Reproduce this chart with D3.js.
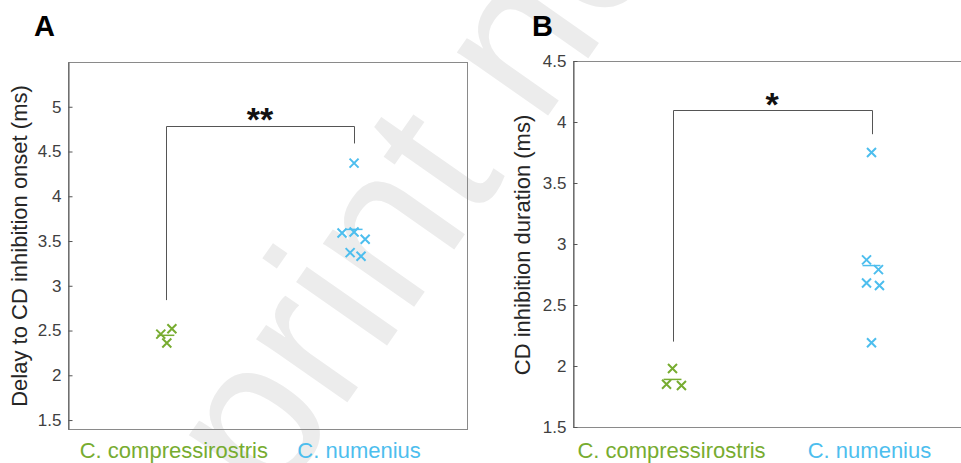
<!DOCTYPE html>
<html>
<head>
<meta charset="utf-8">
<script src="https://cdn.jsdelivr.net/npm/d3@7"></script>
<style>
  body { margin: 0; background: #fff; }
  svg { display: block; font-family: "Liberation Sans", Arial, sans-serif; }
</style>
</head>
<body>
<div id="vis"></div>
<script>
// data

var groups = ["C. compressirostris", "C. numenius"];

// panel A : delay to CD inhibition onset (ms)
var onsetComp = [2.46, 2.52, 2.36],
    onsetCompJit = [-0.027, 0.032, 0.005];
var onsetNum = [4.37, 3.59, 3.60, 3.52, 3.37, 3.33],
    onsetNumJit = [0, -0.064, 0, 0.059, -0.021, 0.037];
var onsetTicks = [1.5, 2, 2.5, 3, 3.5, 4, 4.5, 5];
var onsetBracket = [2.84, 4.78, 4.59]; // left foot, bar, right foot
var onsetStars = "**";

// panel B : CD inhibition duration (ms)
var durComp = [1.98, 1.85, 1.84],
    durCompJit = [0, -0.03, 0.045];
var durNum = [3.75, 2.87, 2.79, 2.68, 2.66, 2.19],
    durNumJit = [0, -0.025, 0.035, -0.025, 0.04, 0];
var durTicks = [1.5, 2, 2.5, 3, 3.5, 4, 4.5];
var durBracket = [2.2, 4.1, 3.9];
var durStars = "*";

var colors = ["#77AC30", "#4DBEEE"];

var W = 961, H = 463;

var svg = d3.select("#vis").append("svg")
    .attr("width", W)
    .attr("height", H);

// watermark behind everything
var wm = svg.append("g")
    .attr("transform", "translate(379,357) rotate(-55)");
var wmText = wm.append("text")
    .attr("font-size", 210)
    .attr("fill", "#ececec")
    .text("preprint not peer reviewed");
var off = wmText.node().getStartPositionOfChar(5).x;
wmText.attr("x", -off);

function panel(opts) {
  var x = d3.scaleLinear().domain(opts.xDomain).range(opts.xRange);
  var y = d3.scaleLinear().domain(opts.yDomain).range(opts.yRange);
  var g = svg.append("g");

  // frame
  var x0 = x(opts.xDomain[0]), x1 = x(opts.xDomain[1]),
      y0 = y(opts.yDomain[0]), y1 = y(opts.yDomain[1]);
  g.append("rect")
      .attr("x", Math.round(x0) + 0.5)
      .attr("y", Math.round(y1) + 0.5)
      .attr("width", Math.round(x1 - x0))
      .attr("height", Math.round(y0 - y1))
      .attr("fill", "none")
      .attr("stroke", "#8a8a8a")
      .attr("stroke-width", 1);

  // y axis, ticks pointing inwards
  var ax = g.append("g")
      .attr("transform", "translate(" + (Math.round(x0) + 0.5) + ",0)")
      .call(d3.axisLeft(y).tickValues(opts.ticks)
        .tickFormat(function(d) { return String(d); })
        .tickSizeInner(-4).tickSizeOuter(0).tickPadding(7));
  ax.select(".domain").attr("stroke", "#555");
  ax.selectAll(".tick line").attr("stroke", "#555");
  ax.selectAll(".tick text")
      .attr("font-size", 17)
      .attr("fill", "#404040")
      .attr("font-family", "'Liberation Sans', Arial, sans-serif");

  // y label
  g.append("text")
      .attr("transform", "translate(" + opts.labelX + "," + opts.labelY + ") rotate(-90)")
      .attr("text-anchor", "middle")
      .attr("font-size", 22)
      .attr("fill", "#262626")
      .text(opts.label);

  // category labels
  g.selectAll(".cat")
    .data(groups)
    .enter().append("text")
      .attr("class", "cat")
      .attr("x", function(d, i) { return x(i + 1) + opts.catShift[i]; })
      .attr("y", 458)
      .attr("text-anchor", "middle")
      .attr("font-size", 22)
      .attr("fill", function(d, i) { return colors[i]; })
      .text(function(d) { return d; });

  // points + mean lines
  opts.series.forEach(function(s, i) {
    var pts = s.values.map(function(v, j) { return {x: i + 1 + s.jit[j], y: v}; });
    var r = 4.5;
    g.append("g").selectAll("path")
      .data(pts)
      .enter().append("path")
        .attr("d", function(d) {
          var cx = x(d.x), cy = y(d.y);
          return "M" + (cx - r) + "," + (cy - r) + "L" + (cx + r) + "," + (cy + r) +
                 "M" + (cx - r) + "," + (cy + r) + "L" + (cx + r) + "," + (cy - r);
        })
        .attr("stroke", colors[i])
        .attr("stroke-width", 2)
        .attr("fill", "none");
    var m = d3.mean(s.values);
    g.append("line")
        .attr("x1", x(i + 1 - 0.045))
        .attr("x2", x(i + 1 + 0.045))
        .attr("y1", y(m))
        .attr("y2", y(m))
        .attr("stroke", colors[i])
        .attr("stroke-width", 1.5);
  });

  // significance bracket
  var b = opts.bracket;
  var bx1 = Math.round(x(1)) + 0.5, bx2 = Math.round(x(2)) + 0.5, by = Math.round(y(b[1])) + 0.5;
  g.append("path")
      .attr("d", "M" + bx1 + "," + y(b[0]) + "V" + by + "H" + bx2 + "V" + y(b[2]))
      .attr("fill", "none")
      .attr("stroke", "#555")
      .attr("stroke-width", 1);
  g.append("text")
      .attr("x", (x(1) + x(2)) / 2)
      .attr("y", by + opts.starDy)
      .attr("text-anchor", "middle")
      .attr("font-size", 34)
      .attr("font-weight", "bold")
      .attr("fill", "#111")
      .text(opts.stars);

  // panel letter
  svg.append("text")
      .attr("x", opts.letterX)
      .attr("y", 36)
      .attr("font-size", 29)
      .attr("font-weight", "bold")
      .attr("fill", "#000")
      .text(opts.letter);
}

panel({
  xDomain: [0.48, 2.6], xRange: [68, 467],
  yDomain: [1.4, 5.5], yRange: [429, 62],
  ticks: onsetTicks,
  label: "Delay to CD inhibition onset (ms)", labelX: 27, labelY: 246,
  catShift: [8, 5],
  series: [{values: onsetComp, jit: onsetCompJit}, {values: onsetNum, jit: onsetNumJit}],
  bracket: onsetBracket, stars: onsetStars, starDy: 4.5,
  letter: "A", letterX: 34
});

panel({
  xDomain: [0.5, 2.5], xRange: [573, 971],
  yDomain: [1.5, 4.5], yRange: [427, 61],
  ticks: durTicks,
  label: "CD inhibition duration (ms)", labelX: 530, labelY: 245,
  catShift: [-1, -2],
  series: [{values: durComp, jit: durCompJit}, {values: durNum, jit: durNumJit}],
  bracket: durBracket, stars: durStars, starDy: 5.5,
  letter: "B", letterX: 532
});
</script>
</body>
</html>
